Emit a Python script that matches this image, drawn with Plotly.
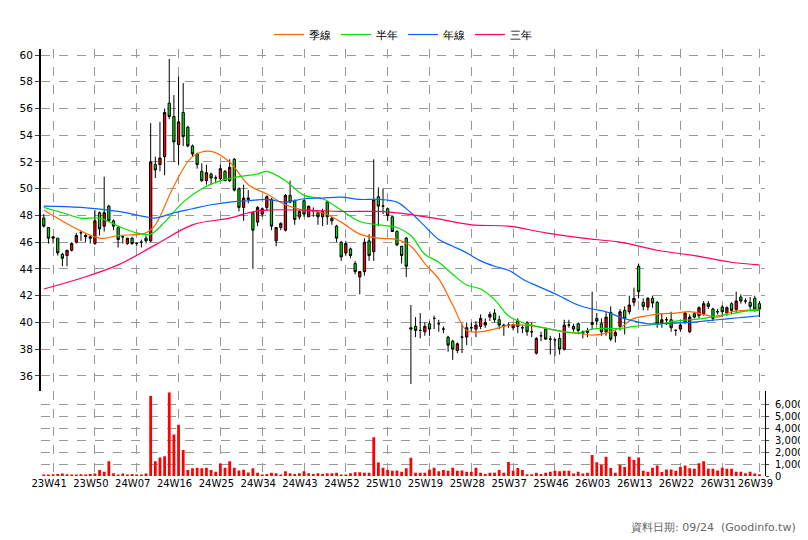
# Weekly candlestick + moving averages + volume
import plotly.graph_objects as go

opens = [47.8,47.1,46.3,46.3,45.1,45.0,45.4,46.0,46.7,46.4,46.4,45.9,48.2,47.2,48.7,47.6,47.1,46.4,45.9,46.3,
         45.9,46.0,46.3,46.1,51.8,51.8,52.4,56.4,55.4,53.3,55.7,54.6,53.2,52.6,51.3,50.6,51.1,50.8,50.75,51.3,
         50.6,52.2,50.0,48.6,49.2,48.2,47.5,48.1,48.6,49.2,46.1,47.1,46.9,49.5,49.1,47.9,49.1,47.9,48.3,48.2,
         47.9,49.0,47.8,47.2,46.0,45.2,45.5,44.4,43.4,43.8,46.1,45.3,49.4,48.7,48.5,47.9,46.8,45.7,46.3,39.6,
         39.7,39.4,39.3,39.9,40.3,39.9,39.5,38.9,38.6,37.9,38.9,38.9,39.6,39.5,39.7,39.8,40.4,40.7,40.2,39.8,
         39.8,39.6,40.1,39.6,39.96,39.3,37.7,39.0,39.5,38.75,38.7,38.8,38.0,39.8,39.7,39.9,39.3,39.25,39.85,40.3,
         39.9,39.3,40.75,39.0,39.7,40.9,40.8,41.5,44.2,41.5,41.15,41.8,41.5,39.96,40.2,40.2,39.4,39.5,40.0,39.3,
         40.65,40.5,40.65,41.4,41.0,40.8,41.15,40.7,41.4,40.98,41.9,41.6,41.5,41.8,41.4]
highs = [48.1,47.1,46.4,46.3,45.2,45.4,46.0,46.7,46.9,46.6,46.5,48.4,48.3,50.9,48.8,47.7,47.2,46.5,46.3,46.4,
         46.0,46.2,46.5,54.9,52.4,55.0,56.0,59.7,57.0,58.4,57.9,54.7,53.3,52.7,51.9,51.8,51.2,51.0,51.8,51.4,
         52.2,52.3,50.1,50.3,49.9,48.3,48.7,48.6,49.5,49.3,47.1,47.5,49.6,50.6,49.2,48.4,49.2,48.7,48.6,48.3,
         48.5,49.1,47.9,47.3,46.1,46.1,45.6,44.6,43.8,46.3,46.6,52.2,50.1,50.0,48.6,48.0,46.9,45.7,46.4,41.3,
         40.4,40.7,40.0,40.1,40.5,40.2,39.7,39.0,38.7,38.5,39.9,40.0,40.0,40.1,40.6,40.3,40.8,41.0,40.5,39.9,
         40.0,39.9,40.3,39.8,40.1,40.0,38.9,39.3,39.6,39.0,38.8,39.2,40.2,40.2,39.9,40.0,39.4,39.6,42.3,40.7,
         40.3,40.8,41.2,39.4,41.0,41.2,42.0,42.6,44.4,41.8,41.9,42.0,41.6,40.7,40.4,40.8,39.5,39.9,40.8,40.6,
         40.8,41.2,41.6,41.6,41.1,41.0,41.3,41.2,41.5,42.3,42.1,41.8,41.9,42.0,41.6]
lows = [47.1,45.9,45.9,45.0,44.2,44.2,45.3,45.9,46.1,46.0,45.9,45.8,46.5,46.8,47.5,46.9,45.6,45.9,45.8,45.8,
        45.7,45.6,45.9,46.0,50.8,51.3,51.0,55.2,52.0,51.8,53.2,53.1,52.4,51.5,50.5,50.3,50.3,50.4,50.6,50.6,
        50.5,49.8,48.3,47.6,48.9,44.0,47.2,47.9,48.4,46.9,45.7,46.9,46.8,48.9,47.3,47.7,47.9,47.9,47.9,47.3,
        47.2,47.3,47.3,46.0,44.6,45.0,44.8,43.6,42.1,43.5,44.6,44.6,47.2,48.1,47.6,46.8,45.7,44.4,43.4,35.4,
        38.9,38.8,39.0,39.0,39.5,39.3,39.2,37.8,37.2,37.7,37.7,38.3,39.3,38.9,39.5,39.6,40.1,40.0,39.5,39.0,
        39.6,39.4,39.2,39.2,39.0,38.9,37.6,38.6,38.7,37.6,37.5,37.6,37.9,39.6,39.3,39.1,38.8,38.9,39.5,39.8,
        39.0,39.0,38.6,38.5,39.4,39.1,40.6,41.2,41.8,40.9,40.9,41.1,39.6,39.6,39.8,39.3,39.0,39.3,39.9,39.2,
        40.3,40.3,40.5,41.0,40.1,40.6,40.4,40.5,40.6,40.7,41.4,41.4,41.0,40.8,40.4]
closes = [47.2,46.3,46.4,45.2,44.8,45.4,45.9,46.5,46.7,46.5,46.3,47.6,47.0,48.2,47.6,47.2,46.2,46.4,46.3,45.9,
          45.9,46.0,46.1,52.0,51.4,52.3,55.7,55.4,53.5,55.0,53.9,53.2,52.6,51.8,50.6,51.2,50.8,50.8,51.5,50.6,
          51.6,49.9,48.6,49.3,49.3,46.9,48.6,48.5,49.4,47.2,47.1,47.4,49.5,49.0,47.7,48.3,48.1,48.7,48.3,47.9,
          48.3,47.9,47.6,46.3,44.9,45.9,45.0,43.8,43.8,46.0,45.0,49.2,48.7,48.7,48.0,46.8,45.8,45.0,44.2,39.5,
          39.4,39.4,39.7,39.5,40.3,39.9,39.5,38.3,38.0,38.4,38.9,39.6,39.6,39.8,40.3,40.0,40.6,40.2,39.8,39.7,
          39.8,39.8,39.7,39.6,39.3,39.3,38.8,39.0,38.75,38.75,38.7,38.0,39.8,39.8,39.5,39.4,39.2,39.4,40.0,40.1,
          39.3,40.4,38.75,39.25,40.8,40.3,41.3,41.8,42.3,41.2,41.8,41.45,39.9,40.2,40.2,39.6,39.4,39.8,40.7,40.4,
          40.4,41.1,41.4,41.2,40.3,40.8,40.8,41.1,40.9,41.6,41.6,41.6,41.2,41.0,41.0]
volumes = [100,100,140,170,200,150,100,100,140,100,160,200,500,350,1230,230,80,200,100,160,50,80,200,
           6700,1230,1550,1650,7000,3470,4300,2180,500,650,700,650,700,500,350,1050,700,1230,
           700,470,530,300,650,280,80,160,280,240,100,400,240,160,240,400,240,160,240,160,
           240,240,280,120,80,240,320,320,280,280,3250,1130,700,500,450,470,350,650,1520,280,
           280,280,530,700,400,500,450,700,430,470,350,350,700,280,160,280,280,500,280,1180,
           430,670,500,140,140,280,160,280,350,450,400,430,430,200,350,200,280,1750,1150,950,
           1620,680,280,950,750,1620,1350,1550,430,350,700,870,330,550,550,430,750,870,650,600,
           1070,1230,600,600,470,700,600,600,350,350,230,350,200,150]

week_labels = ["23W41","23W50","24W07","24W16","24W25","24W34","24W43","24W52","25W10",
               "25W19","25W28","25W37","25W46","26W03","26W13","26W22","26W31","26W39"]
week_pos = [2,11,20,29,38,47,56,65,74,83,92,101,110,119,128,137,146,154]

q_x = [0,12,16,22,24,28,32,36,40,44,48,52,56,60,64,68,72,76,79,82,85,88,91,94,97,100,103,106,109,112,115,118,121,124,127,130,133,136,139,142,145,148,151,154]
q_y = [48.4,46.3,46.5,46.7,47.3,50.2,52.4,52.8,52.0,50.3,49.6,48.8,48.4,48.2,47.5,46.6,46.3,46.2,45.7,44.4,43.25,41.3,39.4,39.3,39.5,39.8,39.8,39.7,39.5,39.3,39.2,39.05,39.2,39.6,40.3,40.5,40.65,40.7,40.8,40.6,40.4,40.8,40.9,41.0]
h_x = [0,4,8,12,16,20,23,26,30,34,38,42,46,48,52,56,60,64,68,72,76,79,82,85,88,91,94,97,100,103,106,109,112,115,118,121,124,127,130,133,136,139,142,145,148,151,154]
h_y = [48.6,48.2,47.8,47.8,47.2,46.7,46.6,47.5,49.0,50.0,50.6,50.9,51.1,51.3,50.6,49.5,49.25,48.4,47.55,47.3,47.1,46.5,45.1,44.5,43.6,42.8,42.5,41.7,40.5,40.0,39.7,39.5,39.3,39.2,39.5,39.55,39.55,39.7,39.8,39.9,40.1,40.2,40.3,40.5,40.65,40.85,40.9]
y_x = [0,8,16,22,24,28,32,36,40,44,48,52,56,60,64,68,72,76,79,82,85,88,91,94,97,100,103,106,109,112,115,118,121,124,127,130,133,136,139,142,145,148,151,154]
y_y = [48.7,48.6,48.3,47.9,47.8,48.2,48.5,48.8,49.0,49.1,49.2,49.0,49.25,49.3,49.37,49.2,49.2,49.0,48.2,47.2,46.2,45.7,45.2,44.6,44.2,43.9,43.25,42.75,42.3,41.8,41.3,41.0,40.8,40.4,40.1,39.9,39.9,39.95,40.0,40.1,40.2,40.3,40.4,40.5]
t_x = [0,8,16,24,32,40,44,48,56,64,72,76,84,92,100,108,116,124,132,140,148,154]
t_y = [42.5,43.3,44.3,45.8,47.3,47.8,48.2,48.4,48.4,48.3,48.3,48.2,47.8,47.3,47.2,46.7,46.3,46.0,45.4,45.0,44.5,44.3]

x = list(range(len(closes)))

fig = go.Figure()
fig.add_trace(go.Candlestick(x=x, open=opens, high=highs, low=lows, close=closes,
                             increasing=dict(fillcolor="#ff0000", line=dict(color="black", width=1)),
                             decreasing=dict(fillcolor="#00e000", line=dict(color="black", width=1)),
                             whiskerwidth=0, showlegend=False, hoverinfo="skip", yaxis="y"))

for name, xs, ys, color in [("季線", q_x, q_y, "#ff6600"), ("半年", h_x, h_y, "#00e000"),
                            ("年線", y_x, y_y, "#0066ff"), ("三年", t_x, t_y, "#ff0066")]:
    fig.add_trace(go.Scatter(x=xs, y=ys, mode="lines", name=name, yaxis="y",
                             line=dict(color=color, width=1.2, shape="spline")))

fig.add_trace(go.Bar(x=x, y=volumes, marker=dict(color="#ff0000", line=dict(width=0)),
                     width=0.6, showlegend=False, yaxis="y2"))

grid = dict(showgrid=True, gridcolor="#999999", griddash="dash", gridwidth=1, zeroline=False)
fig.update_layout(
    width=808, height=540, margin=dict(l=22, r=37, t=30, b=72),
    paper_bgcolor="white", plot_bgcolor="white",
    font=dict(family="DejaVu Sans", size=11, color="black"),
    xaxis=dict(range=[-0.6, 155.2], tickvals=week_pos, ticktext=week_labels, tickangle=0,
               anchor="y2", rangeslider=dict(visible=False), ticks="", tickfont=dict(size=10),
               ticklabelshift=-4, **grid),
    yaxis=dict(domain=[0.2, 1], range=[34.9, 60.45], dtick=2, side="left", showline=True,
               linecolor="black", linewidth=2, ticks="outside", ticklen=4,
               tickfont=dict(size=10.5), **grid),
    yaxis2=dict(domain=[0, 0.2], range=[0, 7150], tickvals=[0,1000,2000,3000,4000,5000,6000],
                tickformat=",", side="right", anchor="x", showline=True, linecolor="black",
                linewidth=1, ticks="outside", ticklen=3, tickfont=dict(size=10),
                ticklabelstandoff=4, **grid),
    legend=dict(orientation="h", x=0.5, xanchor="center", y=1.0, yanchor="bottom",
                font=dict(size=11)),
    bargap=0.3,
)

fig.add_annotation(text="資料日期: 09/24  (Goodinfo.tw)", xref="paper", yref="paper",
                   x=1.045, y=-0.14, xanchor="right", showarrow=False,
                   font=dict(color="#666666", size=11))

fig.write_html("out.html")
